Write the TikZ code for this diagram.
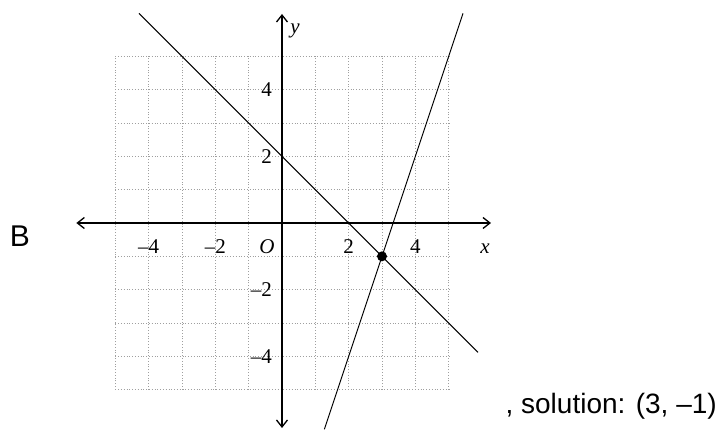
\documentclass[tikz,border=0pt]{standalone}
\usepackage{fontspec}
\setmainfont{Liberation Serif}
\newfontfamily\sansfont{Liberation Sans}
\usetikzlibrary{arrows.meta}

\begin{document}
\begin{tikzpicture}[x=33.33pt, y=33.33pt,
  gridline/.style={gray!75, dotted, line width=0.8pt},
  axis/.style={{Straight Barb[length=7pt,width=11pt]}-{Straight Barb[length=7pt,width=11pt]}, line width=1.3pt},
  graph/.style={line width=1pt},
  ticklabel/.style={font=\fontsize{21}{24}\selectfont, inner sep=0pt},
  caption/.style={font=\sansfont\fontsize{28}{32}\selectfont, inner sep=0pt}]

  \useasboundingbox (-8.46,-6.21) rectangle (13.23,6.69);

  % grid and axes
  \draw[gridline, step=1] (-5,-5) grid (5,5);
  \draw[axis] (-6.17,0) -- (6.27,0);
  \draw[axis] (0,-6.15) -- (0,6.27);

  % tick labels
  \foreach \i/\t in {-4/–4,-2/–2,2/2,4/4} {
    \node[ticklabel] (xl\i) at (\i,-0.72) {\t};
    \node[ticklabel, anchor=east] (yl\i) at (-0.3,\i) {\t};
  }
  \node[ticklabel] (orig) at (-0.45,-0.72) {\itshape O};
  \node[ticklabel] (xlab) at (6.09,-0.78) {\itshape x};
  \node[ticklabel] (ylab) at (0.39,5.76) {\itshape y};

  % the two lines
  \draw[graph] (-4.29,6.29) -- (5.88,-3.88);
  \draw[graph] (1.27,-6.19) -- (5.43,6.29);

  % intersection
  \fill (3,-1) circle (0.15);

  \node[caption] (lbl) at (-7.86,-0.39) {\fontsize{30}{34}\selectfont B};
  \node[caption, anchor=base east] (sol) at (13.05,-5.70) {, solution: (3, –1)};
\end{tikzpicture}
\end{document}
